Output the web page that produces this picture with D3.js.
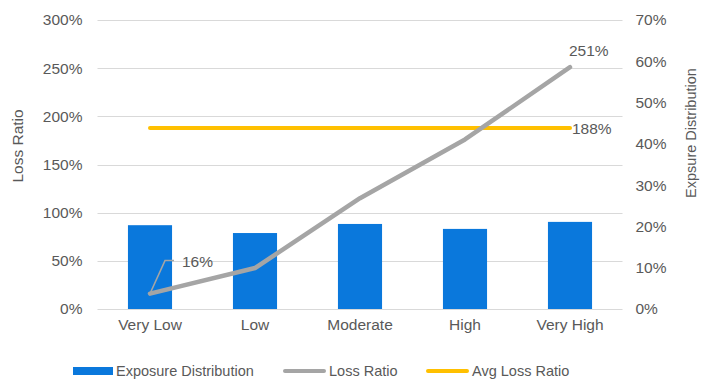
<!DOCTYPE html>
<html>
<head>
<meta charset="utf-8">
<script src="https://cdn.jsdelivr.net/npm/d3@7"></script>
<style>
  body { margin: 0; background: #fff; }
  text { font-family: "Liberation Sans", Arial, sans-serif; fill: #595959; }
</style>
</head>
<body>
<div id="chart"></div>
<script>
// chart data
const categories = ['Very Low', 'Low', 'Moderate', 'High', 'Very High']
const exposure = [0.203, 0.184, 0.206, 0.194, 0.211]
const lossRatio = [0.16, 0.425, 1.15, 1.76, 2.51]
const avgLossRatio = 1.88
const leftTicks = [0, 0.5, 1, 1.5, 2, 2.5, 3]
const rightTicks = [0, 0.1, 0.2, 0.3, 0.4, 0.5, 0.6, 0.7]

const width = 715,
  height = 379,
  plotLeft = 97.5,
  plotRight = 622.5,
  plotTop = 20,
  plotBottom = 309,
  fs = '15.5px'

const blue = '#0A78DC', gray = '#A5A5A5', yellow = '#FFC000'

let svg = d3.select('#chart')
  .append('svg')
  .attr('width', width)
  .attr('height', height)

let x = d3.scaleBand()
  .domain(categories)
  .range([plotLeft, plotRight])
  .paddingInner(0.58)
  .paddingOuter(0.29)

let xc = d => x(d) + x.bandwidth() / 2

let yLeft = d3.scaleLinear().domain([0, 3]).range([plotBottom, plotTop])
let yRight = d3.scaleLinear().domain([0, 0.7]).range([plotBottom, plotTop])

let pct = d3.format('.0%')

// gridlines
svg.append('g')
  .selectAll('line')
  .data(leftTicks)
  .enter()
  .append('line')
  .attr('x1', plotLeft)
  .attr('x2', plotRight)
  .attr('y1', d => Math.round(yLeft(d)) + 0.5)
  .attr('y2', d => Math.round(yLeft(d)) + 0.5)
  .attr('stroke', '#D9D9D9')
  .attr('stroke-width', 1)

let styleAxis = g => {
  g.select('.domain').remove()
  g.selectAll('text').style('font-size', fs).style('font-family', null).attr('fill', '#595959')
}

// left axis
svg.append('g')
  .attr('transform', `translate(${plotLeft},0)`)
  .call(d3.axisLeft(yLeft).tickValues(leftTicks).tickFormat(pct).tickSize(0).tickPadding(15))
  .call(styleAxis)

// right axis
svg.append('g')
  .attr('transform', `translate(${plotRight},0)`)
  .call(d3.axisRight(yRight).tickValues(rightTicks).tickFormat(pct).tickSize(0).tickPadding(13))
  .call(styleAxis)

// x axis
svg.append('g')
  .attr('transform', `translate(0,${plotBottom})`)
  .call(d3.axisBottom(x).tickSize(0).tickPadding(10))
  .call(styleAxis)

// axis titles
svg.append('text')
  .attr('transform', `translate(23,146) rotate(-90)`)
  .attr('text-anchor', 'middle')
  .style('font-size', fs)
  .text('Loss Ratio')

svg.append('text')
  .attr('transform', `translate(696,133) rotate(-90)`)
  .attr('text-anchor', 'middle')
  .style('font-size', '14.5px')
  .text('Expsure Distribution')

// bars
svg.selectAll('rect.bar')
  .data(exposure)
  .enter()
  .append('rect')
  .attr('class', 'bar')
  .attr('x', (d, i) => x(categories[i]))
  .attr('y', d => yRight(d))
  .attr('width', x.bandwidth())
  .attr('height', d => plotBottom - yRight(d))
  .attr('fill', blue)

// avg loss ratio line
svg.append('line')
  .attr('x1', xc(categories[0]))
  .attr('x2', xc(categories[categories.length - 1]))
  .attr('y1', yLeft(avgLossRatio))
  .attr('y2', yLeft(avgLossRatio))
  .attr('stroke', yellow)
  .attr('stroke-width', 4)
  .attr('stroke-linecap', 'round')

// loss ratio line
let line = d3.line()
  .x((d, i) => xc(categories[i]))
  .y(d => yLeft(d))

svg.append('path')
  .datum(lossRatio)
  .attr('d', line)
  .attr('fill', 'none')
  .attr('stroke', gray)
  .attr('stroke-width', 4.5)
  .attr('stroke-linecap', 'round')
  .attr('stroke-linejoin', 'round')

// data labels
let p0 = [xc(categories[0]), yLeft(lossRatio[0])]
svg.append('polyline')
  .attr('points', `${p0[0]},${p0[1]} ${p0[0] + 15},${p0[1] - 33} ${p0[0] + 24},${p0[1] - 33}`)
  .attr('fill', 'none')
  .attr('stroke', gray)
  .attr('stroke-width', 1.5)

svg.append('text')
  .attr('x', p0[0] + 32)
  .attr('y', p0[1] - 27)
  .style('font-size', fs)
  .text(pct(lossRatio[0]))

let last = lossRatio.length - 1
svg.append('text')
  .attr('x', xc(categories[last]) - 1)
  .attr('y', yLeft(lossRatio[last]) - 11)
  .style('font-size', fs)
  .text(pct(lossRatio[last]))

svg.append('text')
  .attr('x', xc(categories[last]) + 2)
  .attr('y', yLeft(avgLossRatio) + 6)
  .style('font-size', fs)
  .text(pct(avgLossRatio))

// legend
let legend = [
  { name: 'Exposure Distribution', color: blue, x: 73, w: 40, h: 8 },
  { name: 'Loss Ratio', color: gray, x: 283, w: 43, h: 4 },
  { name: 'Avg Loss Ratio', color: yellow, x: 426, w: 43, h: 4 }
]
let lg = svg.append('g')
lg.selectAll('rect')
  .data(legend)
  .enter()
  .append('rect')
  .attr('x', d => d.x)
  .attr('y', d => 371 - d.h / 2)
  .attr('width', d => d.w)
  .attr('height', d => d.h)
  .attr('rx', d => d.h === 4 ? 2 : 0)
  .attr('fill', d => d.color)
lg.selectAll('text')
  .data(legend)
  .enter()
  .append('text')
  .attr('x', d => d.x + d.w + 3)
  .attr('y', 376)
  .style('font-size', '14.5px')
  .text(d => d.name)
</script>
</body>
</html>
